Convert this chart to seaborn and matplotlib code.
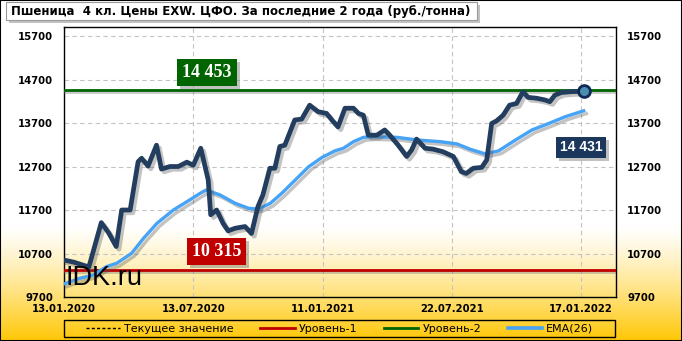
import numpy as np
import pandas as pd
import matplotlib
matplotlib.use("Agg")
import matplotlib.pyplot as plt
import matplotlib.patheffects as pe
from matplotlib.lines import Line2D
from matplotlib.patches import Rectangle
from matplotlib.transforms import IdentityTransform
import seaborn as sns

# ---------------- data ----------------
title = "Пшеница  4 кл. Цены EXW. ЦФО. За последние 2 года (руб./тонна)"
tick_pos = [0, 26, 52, 78, 104]
tick_labels = ["13.01.2020", "13.07.2020", "11.01.2021", "22.07.2021", "17.01.2022"]
y_ticks = [9700, 10700, 11700, 12700, 13700, 14700, 15700]

price_week = [0, 2, 5, 7.5, 9, 10.5, 11.6, 13.3, 14.9, 15.6, 16.9, 18.6, 19.6, 21.3, 23,
              24.7, 26, 27.5, 29, 29.5, 30.7, 32, 33, 34.4, 36.4, 37.7, 39, 40, 41.4,
              42.4, 43.4, 44.4, 46.4, 47.8, 49.4, 51.1, 52.8, 54, 55.1, 56.5, 58.2,
              59.2, 60.2, 61.2, 62.9, 64.5, 65.5, 67.2, 68.9, 69.9, 70.9, 72.6, 74.2,
              76.2, 78.3, 79.9, 80.9, 82.3, 84, 85, 86, 87, 88.3, 89.6, 91, 92.3, 93.3,
              95, 96.7, 97.7, 98.7, 100, 102, 104.5]
price = [10550, 10500, 10390, 11410, 11170, 10860, 11700, 11700, 12810, 12890, 12710,
         13190, 12640, 12700, 12700, 12800, 12730, 13120, 12390, 11590, 11700, 11390,
         11220, 11280, 11320, 11160, 11780, 12050, 12660, 12660, 13160, 13190, 13770,
         13790, 14110, 13960, 13920, 13750, 13610, 14040, 14040, 13920, 13880, 13420,
         13420, 13540, 13420, 13190, 12930, 13080, 13330, 13120, 13100, 13040, 12930,
         12580, 12540, 12660, 12680, 12850, 13690, 13750, 13880, 14110, 14150, 14420,
         14290, 14270, 14230, 14190, 14340, 14400, 14420, 14431]

ema_week = [0, 3.2, 5.9, 8.6, 10.6, 13.6, 16, 18.7, 22, 24.7, 27.4, 28.6, 31.4, 34.4,
            37.1, 39.1, 41.5, 43.8, 46.5, 49.2, 51.9, 54.5, 56.2, 58.2, 60.2, 62.3, 67,
            71, 75.7, 79, 81.7, 84.7, 87.4, 90.8, 94.1, 97.5, 100.8, 104.5]
ema = [10000, 10130, 10205, 10400, 10475, 10705, 11050, 11395, 11700, 11890, 12085,
       12160, 12045, 11855, 11740, 11720, 11855, 12085, 12390, 12695, 12910, 13060,
       13120, 13270, 13370, 13385, 13370, 13310, 13270, 13220, 13095, 12990, 13060,
       13310, 13540, 13690, 13845, 13980]

level1 = 10315
level2 = 14453
current = 14431

legend_labels = ["Текущее значение", "Уровень-1", "Уровень-2", "EMA(26)"]

# ---------------- colours ----------------
NAVY = "#223d5e"
EMA_C = "#46a3f5"
GREEN = "#006400"
RED = "#c00000"

W, H = 682, 341
fig = plt.figure(figsize=(W / 100, H / 100), dpi=100)

# background gradient (white -> yellow at bottom)
bg = fig.add_axes([0, 0, 1, 1], zorder=-10)
n = 400
f = np.linspace(0, 1, n)[:, None]          # 0 bottom, 1 top
start = 0.34
t = np.clip((start - f) / start, 0, 1) ** 1.25
top_c = np.array([1.0, 1.0, 1.0])
bot_c = np.array([1.0, 0.78, 0.02])
img = top_c * (1 - t[..., None]) + bot_c * t[..., None]
img = np.repeat(img, 2, axis=1)
bg.imshow(img, aspect="auto", origin="lower", extent=[0, 1, 0, 1])
bg.set_axis_off()

L, R, T, B = 64, 616, 27, 297
ax = fig.add_axes([L / W, 1 - B / H, (R - L) / W, (B - T) / H])
ax.patch.set_alpha(0)

shadow = [pe.SimpleLineShadow(offset=(2, -2), shadow_color="#555555", alpha=0.35), pe.Normal()]
lvl_shadow = [pe.SimpleLineShadow(offset=(1, -1.5), shadow_color="#777777", alpha=0.4), pe.Normal()]

df_p = pd.DataFrame({"week": price_week, "value": price})
df_e = pd.DataFrame({"week": ema_week, "value": ema})

ax.axhline(level1, color=RED, lw=2.0, zorder=3, path_effects=lvl_shadow)
ax.axhline(level2, color=GREEN, lw=2.0, zorder=3, path_effects=lvl_shadow)

sns.lineplot(data=df_e, x="week", y="value", ax=ax, color=EMA_C, lw=2.4,
             sort=False, estimator=None, zorder=4, path_effects=shadow)
sns.lineplot(data=df_p, x="week", y="value", ax=ax, color=NAVY, lw=3.4,
             sort=False, estimator=None, zorder=5, path_effects=shadow)
ax.plot([price_week[-1]], [current], marker="o", ms=8.5, mfc="#4b8fb0", mec="#0f2a55",
        mew=2.0, zorder=6, ls="none")

ax.set_xlim(0, 111)
ax.set_ylim(9700, 15907)
ax.set_xticks(tick_pos)
ax.set_xticklabels(tick_labels)
ax.set_yticks(y_ticks)
ax.set_xlabel("")
ax.set_ylabel("")
ax.grid(True, color="#c4c4c4", ls=(0, (4, 3)), lw=0.8, zorder=0)
ax.set_axisbelow(True)
for s in ax.spines.values():
    s.set_color("black")
    s.set_linewidth(1.0)
ax.tick_params(axis="both", length=0)
ax.tick_params(axis="y", labelleft=True, labelright=True, pad=8)
ax.tick_params(axis="x", pad=5)
for lab in ax.get_xticklabels() + ax.get_yticklabels():
    lab.set_fontfamily("DejaVu Sans")
    lab.set_fontweight("bold")
    lab.set_fontsize(7.3)
    lab.set_color("black")

# value labels (shadow drawn as a patch after layout)
boxed_texts = []
def boxed(x, y, text, fc, family, size):
    tx = ax.text(x, y, text, transform=ax.transAxes, ha="center", va="center", fontsize=size,
                 fontfamily=family, fontweight="bold", color="white", zorder=8,
                 bbox=dict(boxstyle="square,pad=0.28", fc=fc, ec="none"))
    boxed_texts.append(tx)

boxed(0.259, 0.83, "14 453", GREEN, "Liberation Serif", 13)
boxed(0.276, 0.169, "10 315", RED, "Liberation Serif", 13)
boxed(0.937, 0.554, "14 431", "#1c375c", "Liberation Sans", 10)

ax.text(0.003, 0.07, "IDK.ru", transform=ax.transAxes, fontsize=19.5,
        fontfamily="Liberation Sans", color="black", ha="left", va="center", zorder=9)

# title box
fig.patches.append(Rectangle((9 / W, 1 - 23 / H), (477 - 6) / W, 18 / H, transform=fig.transFigure,
                             fc="#9a9a9a", ec="none", alpha=0.6, zorder=1))
fig.patches.append(Rectangle((6 / W, 1 - 20 / H), (477 - 6) / W, 18 / H, transform=fig.transFigure,
                             fc="white", ec="#9a9a9a", lw=0.8, zorder=2))
fig.text(11 / W, 1 - 11.5 / H, title, fontsize=8.45, fontweight="bold", fontfamily="DejaVu Sans",
         ha="left", va="center", zorder=3)

# legend: frame drawn as rectangle, entries centred
fig.patches.append(Rectangle((L / W, 1 - 337 / H), (615 - L) / W, 17 / H, transform=fig.transFigure,
                             fc="none", ec="black", lw=1.0, zorder=5))
handles = [Line2D([], [], color="black", lw=1.0, ls=(0, (2.2, 1.6))),
           Line2D([], [], color=RED, lw=2.0),
           Line2D([], [], color=GREEN, lw=2.0),
           Line2D([], [], color=EMA_C, lw=2.6)]
leg = fig.legend(handles, legend_labels, loc="center",
                 bbox_to_anchor=((L + 615) / 2 / W, 1 - 328.5 / H),
                 ncol=4, frameon=False, borderpad=0.1, handlelength=3.1,
                 handletextpad=0.35, columnspacing=2.4,
                 prop={"family": "DejaVu Sans", "size": 8})

# figure border
fig.patches.append(Rectangle((0, 0), 1, 1, transform=fig.transFigure, fc="none",
                             ec="black", lw=1.5, zorder=20))

# shadows behind the value boxes
fig.canvas.draw()
for tx in boxed_texts:
    bb = tx.get_bbox_patch().get_window_extent()
    ax.add_patch(Rectangle((bb.x0 + 3, bb.y0 - 3), bb.width, bb.height,
                           transform=IdentityTransform(), fc="#777777", ec="none",
                           alpha=0.45, zorder=7))

fig.savefig("out.png", dpi=100)
